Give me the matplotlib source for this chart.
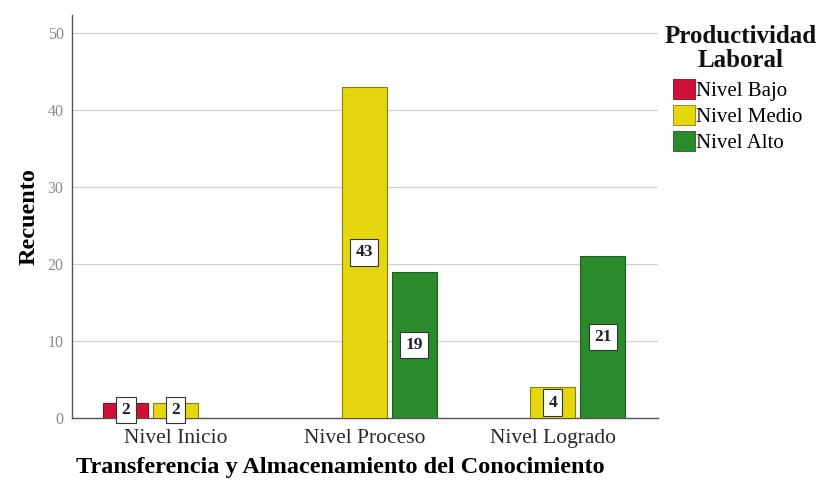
import matplotlib
matplotlib.use("Agg")
import matplotlib.pyplot as plt
import numpy as np
from matplotlib.patches import Patch

plt.rcParams['font.family'] = ['Liberation Serif', 'DejaVu Serif']

categories = ["Nivel Inicio", "Nivel Proceso", "Nivel Logrado"]
series_names = ["Nivel Bajo", "Nivel Medio", "Nivel Alto"]
nivel_bajo = [2, 0, 0]
nivel_medio = [2, 43, 4]
nivel_alto = [0, 19, 21]
yticks = [0, 10, 20, 30, 40, 50]

colors = ["#d1103a", "#e6d60e", "#2b8a2b"]
edges = ["#7a1020", "#8a7d10", "#1d5e1d"]

fig = plt.figure(figsize=(8.17, 4.86), dpi=100)
ax = fig.add_axes([0.088, 0.14, 0.717, 0.829])

x = np.arange(len(categories))
slot = 0.265
width = 0.239
for i, (vals, c, ec) in enumerate(zip([nivel_bajo, nivel_medio, nivel_alto], colors, edges)):
    pos = x + (i - 1) * slot
    for p, v in zip(pos, vals):
        if v <= 0:
            continue
        ax.bar(p, v, width=width, color=c, edgecolor=ec, linewidth=0.8, zorder=3)
        ax.text(p, v / 2, str(v), ha='center', va='center', fontsize=12.5,
                fontweight='bold', color='#222222', zorder=4,
                bbox=dict(boxstyle='square,pad=0.3', facecolor='white',
                          edgecolor='#333333', linewidth=0.8))

ax.set_xlim(-0.552, 2.557)
ax.set_ylim(0, 52.3)
ax.set_yticks(yticks)
ax.set_yticklabels([str(t) for t in yticks], fontsize=11.5, color='#8a8a8a')
ax.set_xticks(x)
ax.set_xticklabels(categories, fontsize=15.5, color='#2a2a2a')
ax.tick_params(axis='x', length=0, pad=8)
ax.tick_params(axis='y', length=0, pad=6)
ax.grid(axis='y', color='#d0d0d0', linewidth=0.9, zorder=0)
for s in ['top', 'right']:
    ax.spines[s].set_visible(False)
for s in ['left', 'bottom']:
    ax.spines[s].set_color('#555555')
    ax.spines[s].set_linewidth(1.0)

ax.set_ylabel("Recuento", fontsize=17.5, fontweight='bold', labelpad=6)
ax.set_xlabel("Transferencia y Almacenamiento del Conocimiento", fontsize=17.5,
              fontweight='bold', labelpad=5)
ax.xaxis.set_label_coords(0.459, -0.098)
ax.xaxis.label.set_va('top')

# legend title drawn separately, centred over the entries
fig.text(0.907, 1 - 25 / 486, "Productividad\nLaboral", ha='center', va='top',
         fontsize=18, fontweight='bold', linespacing=1.05, color='#111111')

handles = [Patch(facecolor=c, edgecolor=ec, linewidth=0.6) for c, ec in zip(colors, edges)]
leg = fig.legend(handles, series_names,
                 loc='upper left', bbox_to_anchor=(673 / 817, 1 - 79 / 486),
                 frameon=False, fontsize=15,
                 handlelength=1.05, handleheight=1.08, handletextpad=0.05,
                 labelspacing=0.2, borderaxespad=0.0, borderpad=0.0)

fig.savefig("out.png", dpi=100)
